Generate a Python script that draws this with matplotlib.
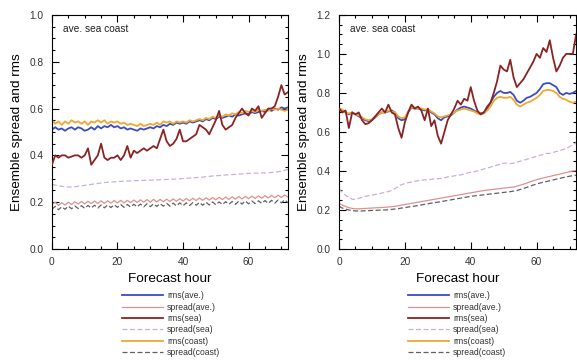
import matplotlib
matplotlib.use('Agg')
import matplotlib.pyplot as plt
import numpy as np
from matplotlib.ticker import MultipleLocator

plt.rcParams['font.family'] = ['Liberation Sans', 'DejaVu Sans']

hours = np.arange(0, 73)
labels = ['rms(ave.)', 'spread(ave.)', 'rms(sea)', 'spread(sea)', 'rms(coast)', 'spread(coast)']

# left panel
l_rms_ave = [0.51, 0.52, 0.51, 0.515, 0.505, 0.515, 0.52, 0.51, 0.52, 0.515,
             0.505, 0.51, 0.52, 0.51, 0.525, 0.515, 0.525, 0.52, 0.53, 0.52,
             0.525, 0.515, 0.52, 0.51, 0.515, 0.51, 0.505, 0.515, 0.51, 0.515,
             0.52, 0.515, 0.525, 0.52, 0.53, 0.525, 0.535, 0.53, 0.54, 0.535,
             0.54, 0.535, 0.545, 0.54, 0.545, 0.55, 0.545, 0.555, 0.55, 0.56,
             0.555, 0.565, 0.56, 0.565, 0.57, 0.565, 0.575, 0.57, 0.575, 0.58,
             0.575, 0.585, 0.58, 0.585, 0.59, 0.585, 0.595, 0.59, 0.60, 0.595,
             0.605, 0.60, 0.605]
l_spread_ave = [0.19, 0.2, 0.186, 0.198, 0.188, 0.2, 0.19, 0.202, 0.192, 0.203,
                0.193, 0.204, 0.194, 0.205, 0.194, 0.206, 0.195, 0.206, 0.196, 0.207,
                0.197, 0.208, 0.197, 0.208, 0.198, 0.209, 0.199, 0.21, 0.2, 0.211,
                0.2, 0.212, 0.201, 0.212, 0.202, 0.213, 0.203, 0.214, 0.204, 0.215,
                0.205, 0.216, 0.206, 0.217, 0.207, 0.218, 0.208, 0.219, 0.209, 0.22,
                0.21, 0.221, 0.211, 0.222, 0.212, 0.223, 0.213, 0.224, 0.214, 0.225,
                0.215, 0.226, 0.216, 0.227, 0.217, 0.228, 0.218, 0.229, 0.219, 0.23,
                0.22, 0.231, 0.222]
l_rms_sea = [0.36, 0.40, 0.39, 0.40, 0.40, 0.39, 0.395, 0.40, 0.40, 0.39,
             0.40, 0.43, 0.36, 0.38, 0.40, 0.45, 0.39, 0.38, 0.39, 0.39,
             0.40, 0.38, 0.40, 0.44, 0.39, 0.42, 0.41, 0.42, 0.43, 0.42,
             0.43, 0.44, 0.43, 0.47, 0.51, 0.46, 0.44, 0.45, 0.47, 0.51,
             0.46, 0.46, 0.47, 0.48, 0.49, 0.53, 0.52, 0.51, 0.49, 0.52,
             0.55, 0.59, 0.53, 0.51, 0.52, 0.53, 0.56, 0.58, 0.60, 0.58,
             0.57, 0.60, 0.59, 0.61, 0.56, 0.58, 0.60, 0.60, 0.61, 0.65,
             0.70, 0.66, 0.67]
l_spread_sea = [0.276, 0.273, 0.27, 0.268, 0.266, 0.265, 0.265, 0.266, 0.268, 0.27,
                0.272, 0.274, 0.276, 0.278, 0.28, 0.282, 0.284, 0.285, 0.286, 0.287,
                0.288, 0.289, 0.29, 0.29, 0.291, 0.292, 0.292, 0.293, 0.293, 0.294,
                0.294, 0.295, 0.295, 0.296, 0.296, 0.297, 0.298, 0.298, 0.299, 0.3,
                0.301, 0.302, 0.303, 0.304, 0.305, 0.306, 0.307, 0.309, 0.31, 0.312,
                0.313, 0.314, 0.315, 0.316, 0.317, 0.318, 0.319, 0.32, 0.321, 0.322,
                0.323, 0.323, 0.324, 0.324, 0.325, 0.325, 0.326, 0.327, 0.328, 0.33,
                0.333, 0.336, 0.34]
l_rms_coast = [0.55, 0.535, 0.545, 0.53, 0.545, 0.535, 0.55, 0.54, 0.545, 0.535,
               0.545, 0.53, 0.545, 0.54, 0.55, 0.54, 0.55, 0.535, 0.545, 0.54,
               0.545, 0.535, 0.54, 0.53, 0.535, 0.53, 0.525, 0.535, 0.525, 0.53,
               0.535, 0.53, 0.54, 0.53, 0.545, 0.54, 0.545, 0.535, 0.545, 0.54,
               0.545, 0.54, 0.55, 0.545, 0.55, 0.555, 0.55, 0.56, 0.555, 0.565,
               0.56, 0.57, 0.565, 0.575, 0.57, 0.58, 0.575, 0.585, 0.58, 0.59,
               0.585, 0.59, 0.585, 0.595, 0.59, 0.595, 0.59, 0.6, 0.595, 0.6,
               0.595, 0.59, 0.595]
l_spread_coast = [0.17, 0.182, 0.168, 0.18, 0.17, 0.183, 0.172, 0.184, 0.173, 0.185,
                  0.174, 0.186, 0.175, 0.187, 0.175, 0.188, 0.176, 0.188, 0.177, 0.189,
                  0.178, 0.19, 0.178, 0.19, 0.179, 0.191, 0.18, 0.192, 0.18, 0.193,
                  0.181, 0.193, 0.182, 0.194, 0.183, 0.195, 0.183, 0.196, 0.184, 0.197,
                  0.185, 0.197, 0.186, 0.198, 0.187, 0.199, 0.187, 0.2, 0.188, 0.201,
                  0.189, 0.201, 0.19, 0.202, 0.191, 0.203, 0.191, 0.204, 0.192, 0.205,
                  0.193, 0.205, 0.194, 0.206, 0.195, 0.207, 0.195, 0.208, 0.196, 0.209,
                  0.197, 0.21, 0.198]

# right panel
r_rms_ave = [0.72, 0.71, 0.70, 0.69, 0.70, 0.69, 0.68, 0.67, 0.66, 0.655,
             0.66, 0.675, 0.69, 0.70, 0.70, 0.705, 0.71, 0.70, 0.67, 0.66,
             0.665, 0.70, 0.725, 0.72, 0.72, 0.715, 0.71, 0.715, 0.70, 0.69,
             0.67, 0.66, 0.675, 0.68, 0.685, 0.70, 0.715, 0.725, 0.73, 0.725,
             0.72, 0.71, 0.70, 0.695, 0.70, 0.72, 0.75, 0.78, 0.80, 0.81,
             0.80, 0.80, 0.805, 0.79, 0.76, 0.75, 0.76, 0.775, 0.78, 0.79,
             0.80, 0.82, 0.845, 0.85, 0.85, 0.84, 0.83, 0.80, 0.79, 0.80,
             0.795, 0.80, 0.81]
r_spread_ave = [0.235, 0.225, 0.218, 0.212, 0.208, 0.206, 0.206, 0.207, 0.208, 0.209,
                0.21, 0.211, 0.212, 0.213, 0.214, 0.215, 0.217, 0.219, 0.222, 0.225,
                0.228, 0.231, 0.234, 0.237, 0.24, 0.243, 0.246, 0.249, 0.252, 0.255,
                0.258, 0.261, 0.264, 0.267, 0.27, 0.273, 0.276, 0.279, 0.282, 0.285,
                0.288, 0.291, 0.294, 0.297, 0.3, 0.302, 0.304, 0.306, 0.308, 0.31,
                0.312, 0.314, 0.316, 0.318, 0.322, 0.327, 0.332, 0.338, 0.344, 0.35,
                0.355, 0.36, 0.364, 0.368, 0.372, 0.376, 0.38, 0.384, 0.388, 0.392,
                0.396, 0.40, 0.402]
r_rms_sea = [0.72, 0.70, 0.71, 0.62, 0.70, 0.69, 0.70, 0.66, 0.64, 0.645,
             0.66, 0.68, 0.70, 0.72, 0.70, 0.74, 0.70, 0.69, 0.62, 0.57,
             0.65, 0.70, 0.74, 0.72, 0.73, 0.71, 0.66, 0.72, 0.63, 0.66,
             0.58, 0.54, 0.60, 0.66, 0.69, 0.72, 0.76, 0.74, 0.77, 0.76,
             0.83, 0.76, 0.71, 0.69, 0.70, 0.73, 0.75, 0.80, 0.86, 0.94,
             0.92, 0.91, 0.97, 0.88, 0.83, 0.85, 0.87, 0.90, 0.93, 0.96,
             1.00, 0.98, 1.03, 1.01, 1.07, 0.98, 0.91, 0.94, 0.98, 1.00,
             1.00, 1.00, 1.10]
r_spread_sea = [0.31, 0.29, 0.275, 0.265, 0.255, 0.255, 0.26, 0.265, 0.27, 0.273,
                0.276, 0.28, 0.283, 0.287, 0.29, 0.295, 0.30, 0.31, 0.32, 0.33,
                0.335, 0.34, 0.343, 0.347, 0.35, 0.352, 0.355, 0.355, 0.357, 0.36,
                0.36, 0.362, 0.365, 0.37, 0.372, 0.375, 0.378, 0.38, 0.385, 0.39,
                0.393, 0.397, 0.40, 0.405, 0.41, 0.415, 0.42, 0.425, 0.43, 0.435,
                0.44, 0.44, 0.438, 0.44, 0.445, 0.45, 0.455, 0.46, 0.465, 0.47,
                0.475, 0.48, 0.485, 0.49, 0.49, 0.495, 0.50, 0.505, 0.51, 0.515,
                0.525, 0.535, 0.545]
r_rms_coast = [0.72, 0.715, 0.70, 0.695, 0.70, 0.69, 0.685, 0.675, 0.665, 0.66,
               0.665, 0.68, 0.69, 0.70, 0.70, 0.71, 0.705, 0.70, 0.68, 0.67,
               0.675, 0.705, 0.725, 0.725, 0.72, 0.72, 0.715, 0.715, 0.705, 0.695,
               0.68, 0.675, 0.68, 0.685, 0.69, 0.70, 0.71, 0.715, 0.72, 0.715,
               0.71, 0.705, 0.695, 0.69, 0.695, 0.71, 0.73, 0.76, 0.775, 0.78,
               0.775, 0.775, 0.78, 0.765, 0.74, 0.73, 0.74, 0.75, 0.755, 0.765,
               0.775, 0.79, 0.81, 0.815, 0.815, 0.81, 0.80, 0.78, 0.77, 0.765,
               0.755, 0.75, 0.755]
r_spread_coast = [0.22, 0.21, 0.205, 0.2, 0.197, 0.195, 0.195, 0.195, 0.196, 0.197,
                  0.198, 0.198, 0.199, 0.2, 0.2, 0.201, 0.203, 0.205, 0.207, 0.21,
                  0.212, 0.215, 0.218, 0.22, 0.223, 0.226, 0.229, 0.232, 0.235, 0.238,
                  0.24, 0.243, 0.246, 0.249, 0.252, 0.255, 0.258, 0.261, 0.264, 0.267,
                  0.27, 0.272, 0.274, 0.276, 0.278, 0.28, 0.282, 0.284, 0.286, 0.288,
                  0.29, 0.292, 0.294, 0.297, 0.3, 0.305, 0.31, 0.316, 0.322, 0.328,
                  0.333, 0.338, 0.342, 0.346, 0.35, 0.354, 0.358, 0.362, 0.366, 0.37,
                  0.373, 0.376, 0.378]

styles = [
    dict(color='#3b4cc0', lw=1.3, ls='-'),
    dict(color='#e09090', lw=0.9, ls='-'),
    dict(color='#8b2323', lw=1.3, ls='-'),
    dict(color='#c8b0dc', lw=0.9, ls=(0, (4, 2))),
    dict(color='#f0a830', lw=1.3, ls='-'),
    dict(color='#606060', lw=0.9, ls=(0, (4, 2))),
]


def panel(ax, series, ymax, legx):
    lines = []
    for y, lab, st in zip(series, labels, styles):
        ln, = ax.plot(hours, y, label=lab, **st)
        lines.append(ln)
    # draw order: sea rms on top
    lines[2].set_zorder(3)
    ax.set_xlim(0, 72)
    ax.set_ylim(0, ymax)
    ax.xaxis.set_major_locator(MultipleLocator(20))
    ax.xaxis.set_minor_locator(MultipleLocator(5))
    ax.yaxis.set_major_locator(MultipleLocator(0.2))
    ax.yaxis.set_minor_locator(MultipleLocator(0.05))
    ax.yaxis.set_major_formatter(plt.FormatStrFormatter('%.1f'))
    ax.tick_params(which='both', direction='in', top=True, right=True,
                   labelsize=7.3, labelcolor='#333333', width=0.8)
    ax.tick_params(which='major', length=5, pad=6)
    ax.tick_params(which='minor', length=2.5)
    for s in ax.spines.values():
        s.set_linewidth(0.8)
    ax.set_xlabel('Forecast hour', fontsize=9.7, labelpad=4)
    ax.set_ylabel('Ensemble spread and rms', fontsize=9.7, labelpad=5)
    ax.text(0.047, 0.94, 'ave. sea coast', transform=ax.transAxes,
            fontsize=7.3, color='#222222', va='center')
    fig.legend(lines, labels, loc='upper left', bbox_to_anchor=(legx, 0.198),
               bbox_transform=fig.transFigure, frameon=False, borderpad=0,
               borderaxespad=0, handlelength=4.8, handletextpad=0.45,
               fontsize=6.2, labelspacing=0.28, labelcolor='#333333')


fig = plt.figure(figsize=(5.77, 3.63), dpi=100)
ax1 = fig.add_axes([0.090, 0.314, 0.409, 0.645])
ax2 = fig.add_axes([0.5875, 0.314, 0.411, 0.645])

panel(ax1, [l_rms_ave, l_spread_ave, l_rms_sea, l_spread_sea, l_rms_coast, l_spread_coast], 1.0, 0.211)
panel(ax2, [r_rms_ave, r_spread_ave, r_rms_sea, r_spread_sea, r_rms_coast, r_spread_coast], 1.2, 0.707)

plt.savefig('out.png', dpi=100)
